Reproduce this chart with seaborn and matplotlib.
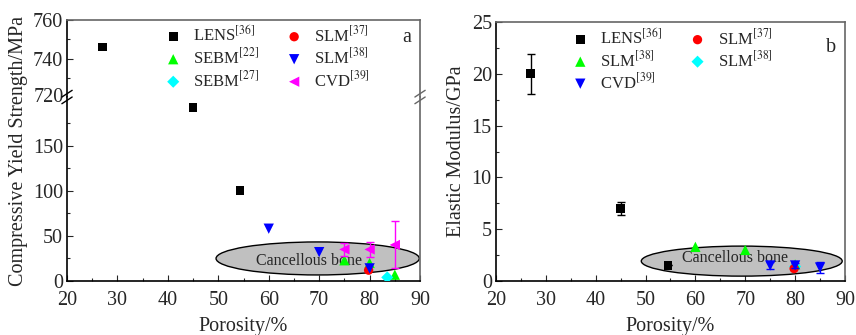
import numpy as np
import matplotlib
matplotlib.use('Agg')
import matplotlib.pyplot as plt
from matplotlib.patches import Ellipse
import seaborn as sns

sns.set_theme(style='ticks')
plt.rcParams['font.family'] = ['Liberation Serif', 'DejaVu Serif']
plt.rcParams['mathtext.fontset'] = 'stix'

# ---- panel a: compressive yield strength ----
lens_a_x = [27, 45, 54.3]
lens_a_y = [746, 192, 100]
sebm22_x = [75, 80, 85]
sebm22_y = [23, 20, 7]
sebm27_x = [83.5]
sebm27_y = [4]
slm37_a_x = [79.8]
slm37_a_y = [12]
slm38_a_x = [60, 70, 80]
slm38_a_y = [58, 32, 14]
cvd_a_x = [75, 80, 85]
cvd_a_y = [35, 35, 40]
cvd_a_err = [7, 8, 26]

# ---- panel b: elastic modulus ----
lens_b_x = [27, 45, 54.5]
lens_b_y = [20, 7, 1.5]
lens_b_err = [1.9, 0.6, 0]
slm38g_x = [60, 70, 80]
slm38g_y = [3.3, 3.0, 1.6]
cvd_b_x = [75, 80, 85]
cvd_b_y = [1.5, 1.5, 1.3]
cvd_b_err = [0.3, 0.2, 0.5]
slm37_b_x = [79.8]
slm37_b_y = [1.2]
slm38c_x = [80]
slm38c_y = [1.4]

fs = 14.5
fig = plt.figure(figsize=(8.56, 3.35), dpi=100)
ax_top = fig.add_axes([0.0783, 0.7104, 0.4124, 0.2296])
ax_low = fig.add_axes([0.0783, 0.1612, 0.4124, 0.5492])
ax_b = fig.add_axes([0.5794, 0.1612, 0.4077, 0.7728])


def style(ax):
    ax.tick_params(direction='in', labelsize=fs, length=4, width=0.8,
                   top=False, right=False, pad=3)
    ax.tick_params(axis='x', pad=7)
    ax.tick_params(which='minor', direction='in', length=2.5, width=0.8)
    for s in ['left', 'bottom']:
        ax.spines[s].set_color('black')
        ax.spines[s].set_linewidth(1.2)
    for s in ['top', 'right']:
        ax.spines[s].set_color('#666666')
        ax.spines[s].set_linewidth(1.2)
        ax.spines[s].set_visible(True)


def draw_a(ax):
    sns.scatterplot(x=lens_a_x, y=lens_a_y, marker='s', color='black', s=40,
                    edgecolor='none', label='LENS$^{[36]}$', ax=ax, zorder=3)
    sns.scatterplot(x=sebm22_x, y=sebm22_y, marker='^', color='#00ff00', s=55,
                    edgecolor='none', label='SEBM$^{[22]}$', ax=ax, zorder=3)
    sns.scatterplot(x=sebm27_x, y=sebm27_y, marker='D', color='cyan', s=38,
                    edgecolor='none', label='SEBM$^{[27]}$', ax=ax, zorder=3)
    sns.scatterplot(x=slm37_a_x, y=slm37_a_y, marker='o', color='red', s=45,
                    edgecolor='none', label='SLM$^{[37]}$', ax=ax, zorder=3)
    sns.scatterplot(x=slm38_a_x, y=slm38_a_y, marker='v', color='blue', s=55,
                    edgecolor='none', label='SLM$^{[38]}$', ax=ax, zorder=4)
    ax.errorbar(cvd_a_x, cvd_a_y, yerr=cvd_a_err, fmt='none', ecolor='magenta',
                elinewidth=1, capsize=3, zorder=4)
    sns.scatterplot(x=cvd_a_x, y=cvd_a_y, marker='<', color='magenta', s=55,
                    edgecolor='none', label='CVD$^{[39]}$', ax=ax, zorder=5)


draw_a(ax_top)
draw_a(ax_low)
ax_low.get_legend().remove()

ax_top.set_ylim(720, 760)
ax_low.set_ylim(0, 204)
for ax in (ax_top, ax_low):
    ax.set_xlim(20, 90)
    style(ax)
ax_top.set_yticks([740, 760])
ax_top.set_yticks([730, 750], minor=True)
ax_top.set_xticks([])
ax_top.spines['bottom'].set_visible(False)
ax_low.spines['top'].set_visible(False)
ax_low.set_yticks([0, 50, 100, 150])
ax_low.set_yticks([25, 75, 125, 175], minor=True)
ax_low.set_xticks(np.arange(20, 91, 10))
ax_low.set_xticks(np.arange(25, 90, 10), minor=True)
ax_top.text(-0.008, 0.0, '720', transform=ax_top.transAxes, ha='right',
            va='center', fontsize=fs)

# break marks
for xx, col in ((0, 'black'), (1, '#666666')):
    for dy in (-0.01, 0.01):
        fig.add_artist(plt.Line2D([0.0783 + 0.4124 * xx - 0.006, 0.0783 + 0.4124 * xx + 0.006],
                                  [0.7104 + dy - 0.01, 0.7104 + dy + 0.01],
                                  color=col, lw=1.0, transform=fig.transFigure))

ax_low.add_patch(Ellipse((69.7, 25), 40.3, 36.6, facecolor='#c0c0c0',
                         edgecolor='black', lw=1, zorder=1))
ax_low.text(68, 22, 'Cancellous bone', ha='center', va='center', fontsize=11.5, zorder=2)
ax_low.set_xlabel('Porosity/%', fontsize=fs, labelpad=5)
fig.text(0.022, 0.55, 'Compressive Yield Strength/MPa', rotation=90,
         ha='center', va='center', fontsize=fs)
ax_top.text(0.975, 0.77, 'a', transform=ax_top.transAxes, ha='right',
            va='center', fontsize=fs)
ax_top.legend(ncol=2, loc='upper left', bbox_to_anchor=(0.23, 1.13), frameon=False,
              fontsize=12, handletextpad=0.6, columnspacing=1.5, labelspacing=0.15,
              handlelength=1.2)

# ---- panel b ----
ax = ax_b
ax.add_patch(Ellipse((69.3, 1.92), 40.3, 2.9, facecolor='#c0c0c0',
                     edgecolor='black', lw=1, zorder=1))
ax.text(68, 2.2, 'Cancellous bone', ha='center', va='center', fontsize=11.5, zorder=2)
ax.errorbar(lens_b_x, lens_b_y, yerr=lens_b_err, fmt='none', ecolor='black',
            elinewidth=1, capsize=3, zorder=3)
sns.scatterplot(x=lens_b_x, y=lens_b_y, marker='s', color='black', s=40,
                edgecolor='none', label='LENS$^{[36]}$', ax=ax, zorder=3)
sns.scatterplot(x=slm38g_x, y=slm38g_y, marker='^', color='#00ff00', s=55,
                edgecolor='none', label='SLM$^{[38]}$', ax=ax, zorder=3)
ax.errorbar(cvd_b_x, cvd_b_y, yerr=cvd_b_err, fmt='none', ecolor='blue',
            elinewidth=1, capsize=3, zorder=4)
sns.scatterplot(x=cvd_b_x, y=cvd_b_y, marker='v', color='blue', s=55,
                edgecolor='none', label='CVD$^{[39]}$', ax=ax, zorder=4)
sns.scatterplot(x=slm37_b_x, y=slm37_b_y, marker='o', color='red', s=45,
                edgecolor='none', label='SLM$^{[37]}$', ax=ax, zorder=3)
sns.scatterplot(x=slm38c_x, y=slm38c_y, marker='D', color='cyan', s=38,
                edgecolor='none', label='SLM$^{[38]}$', ax=ax, zorder=2)
ax.set_xlim(20, 90)
ax.set_ylim(0, 25)
style(ax)
ax.set_xticks(np.arange(20, 91, 10))
ax.set_xticks(np.arange(25, 90, 10), minor=True)
ax.set_yticks(np.arange(0, 26, 5))
ax.set_yticks(np.arange(2.5, 25, 5), minor=True)
ax.set_xlabel('Porosity/%', fontsize=fs, labelpad=5)
ax.set_ylabel('Elastic Modulus/GPa', fontsize=fs, labelpad=4)
ax.text(0.975, 0.9, 'b', transform=ax.transAxes, ha='right', va='center', fontsize=fs)
ax.legend(ncol=2, loc='upper left', bbox_to_anchor=(0.17, 1.035), frameon=False,
          fontsize=12, handletextpad=0.6, columnspacing=1.5, labelspacing=0.12,
          handlelength=1.2)

fig.savefig('out.png', dpi=100)
